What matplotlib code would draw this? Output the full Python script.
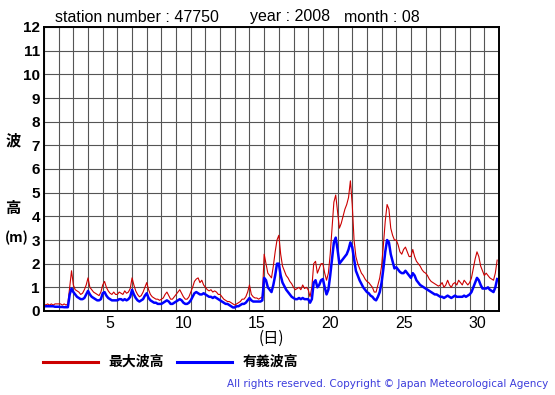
import numpy as np
import matplotlib
matplotlib.use("Agg")
import matplotlib.pyplot as plt

plt.rcParams['font.family'] = ['Liberation Sans', 'Noto Sans CJK JP', 'DejaVu Sans']

# 3-hourly values, one row per day (Aug 2008, station 47750)
sig_wave = [
    0.2, 0.2, 0.2, 0.2, 0.2, 0.2, 0.18, 0.18,
    0.18, 0.17, 0.17, 0.16, 0.16, 0.16, 0.7, 0.95,
    0.8, 0.7, 0.6, 0.55, 0.5, 0.5, 0.55, 0.7,
    0.85, 0.7, 0.6, 0.55, 0.5, 0.45, 0.45, 0.5,
    0.75, 0.8, 0.65, 0.55, 0.5, 0.45, 0.45, 0.45,
    0.45, 0.5, 0.5, 0.45, 0.5, 0.45, 0.5, 0.6,
    0.9, 0.7, 0.55, 0.45, 0.4, 0.45, 0.5, 0.65,
    0.75, 0.55, 0.45, 0.4, 0.35, 0.35, 0.3, 0.3,
    0.3, 0.35, 0.4, 0.45, 0.4, 0.3, 0.3, 0.35,
    0.4, 0.45, 0.5, 0.45, 0.35, 0.3, 0.3, 0.35,
    0.45, 0.6, 0.75, 0.8, 0.75, 0.7, 0.7, 0.75,
    0.7, 0.65, 0.6, 0.6, 0.55, 0.6, 0.55, 0.5,
    0.45, 0.4, 0.35, 0.3, 0.3, 0.25, 0.2, 0.15,
    0.15, 0.2, 0.2, 0.25, 0.3, 0.3, 0.35, 0.45,
    0.55, 0.45, 0.4, 0.4, 0.4, 0.4, 0.4, 0.45,
    1.4, 1.3, 1.0, 0.9, 0.8, 1.1, 1.5, 2.0,
    2.0, 1.5, 1.2, 1.05, 0.9, 0.8, 0.7, 0.6,
    0.55, 0.5, 0.5, 0.55, 0.5, 0.55, 0.5, 0.5,
    0.5, 0.35, 0.5, 1.2, 1.3, 1.0, 1.1, 1.3,
    1.35, 1.0, 0.7, 0.9, 1.5, 2.2, 2.9, 3.1,
    2.6, 2.0, 2.1, 2.2, 2.3, 2.4, 2.6, 2.9,
    2.7, 2.2, 1.7, 1.5, 1.3, 1.15, 1.0, 0.9,
    0.8, 0.75, 0.65, 0.6, 0.5, 0.45, 0.6, 0.8,
    1.2, 1.8, 2.5, 3.0, 2.9, 2.4, 2.1, 1.8,
    1.85, 1.75, 1.65, 1.6, 1.6, 1.7, 1.6, 1.5,
    1.4, 1.6, 1.5, 1.3, 1.2, 1.1, 1.05, 1.0,
    0.95, 0.9, 0.85, 0.8, 0.75, 0.7, 0.7, 0.65,
    0.6, 0.6, 0.55, 0.6, 0.65, 0.6, 0.55, 0.6,
    0.65, 0.6, 0.6, 0.6, 0.6, 0.65, 0.6, 0.65,
    0.7, 0.8, 1.0, 1.2, 1.4, 1.3, 1.1, 0.95,
    0.95, 0.95, 1.0, 0.9, 0.85, 0.8, 1.0, 1.35,
]
max_wave = [
    0.3, 0.25, 0.3, 0.25, 0.3, 0.25, 0.3, 0.3,
    0.3, 0.3, 0.25, 0.3, 0.25, 0.3, 1.0, 1.7,
    1.1, 0.9, 0.85, 0.8, 0.7, 0.75, 0.9, 1.1,
    1.4, 1.0, 0.9, 0.8, 0.75, 0.7, 0.65, 0.8,
    1.1, 1.25, 1.0, 0.85, 0.75, 0.7, 0.8, 0.7,
    0.7, 0.8, 0.75, 0.7, 0.85, 0.75, 0.8, 0.95,
    1.4, 1.1, 0.85, 0.7, 0.6, 0.65, 0.8, 1.0,
    1.2, 0.9, 0.7, 0.6, 0.55, 0.5, 0.5, 0.45,
    0.5, 0.55, 0.7, 0.8, 0.65, 0.5, 0.5, 0.6,
    0.7, 0.8, 0.9, 0.75, 0.6, 0.5, 0.5, 0.6,
    0.8, 1.0, 1.25, 1.35, 1.4, 1.2, 1.3, 1.1,
    1.0, 0.9, 0.85, 0.9, 0.8, 0.85, 0.8, 0.7,
    0.7, 0.6, 0.5, 0.45, 0.4, 0.4, 0.35, 0.3,
    0.25, 0.3, 0.35, 0.4, 0.5, 0.5, 0.6, 0.8,
    1.1, 0.7, 0.6, 0.55, 0.55, 0.5, 0.55, 0.6,
    2.4, 2.0, 1.6, 1.5, 1.4, 1.9, 2.5, 3.0,
    3.2, 2.4, 1.9, 1.7, 1.5, 1.4, 1.25, 1.15,
    1.0, 0.9, 0.95, 1.0, 0.9, 1.1, 0.95, 1.0,
    0.9, 0.6, 1.0, 2.0, 2.1, 1.6, 1.8, 2.0,
    2.0, 1.6, 1.3, 1.6, 2.4, 3.5, 4.6, 4.9,
    4.2, 3.5, 3.7, 4.0, 4.3, 4.5, 4.8, 5.5,
    4.5, 3.0, 2.3, 2.0, 1.8, 1.6, 1.5, 1.35,
    1.25, 1.2, 1.1, 1.0, 0.8, 0.8, 1.1, 1.4,
    1.9, 2.8, 3.8, 4.5, 4.3, 3.5, 3.2, 3.0,
    3.0, 2.8, 2.5, 2.4, 2.6, 2.7, 2.5, 2.3,
    2.3, 2.6, 2.3, 2.1, 2.0, 1.9, 1.75, 1.65,
    1.6, 1.5, 1.35, 1.25, 1.2, 1.15, 1.1, 1.05,
    1.1, 1.2, 1.0, 1.1, 1.3, 1.1, 1.0, 1.15,
    1.2, 1.1, 1.3, 1.2, 1.1, 1.3, 1.2, 1.1,
    1.2, 1.4, 1.8, 2.2, 2.5, 2.3, 1.9, 1.7,
    1.5, 1.6, 1.5, 1.4, 1.35, 1.3, 1.6, 2.15,
]
day_ticks = [5, 10, 15, 20, 25, 30]
height_ticks = list(range(0, 13))

t = 1 + np.arange(len(sig_wave)) / 8.0

fig = plt.figure(figsize=(5.55, 3.95), dpi=100)
ax = fig.add_axes([44 / 555, 84 / 395, 455 / 555, 284 / 395])

ax.plot(t, max_wave, color='#cc0000', lw=0.8)
ax.plot(t, sig_wave, color='#0000ff', lw=1.8)

ax.set_xlim(1, 32)
ax.set_ylim(0, 12)
ax.set_xticks(np.arange(1, 33))
ax.set_xticklabels([])
ax.set_yticks(height_ticks)
ax.set_yticklabels([str(v) for v in height_ticks], fontweight='bold', fontsize=11)
ax.tick_params(length=0, pad=3)
ax.grid(True, color='#555555', lw=0.8)
for s in ax.spines.values():
    s.set_linewidth(1.4)

for d in day_ticks:
    ax.text(d + 0.5, -0.2, str(d), ha='center', va='top', fontsize=11.5)
cjk = ['Noto Sans CJK JP', 'DejaVu Sans']
ax.text(16.5, -0.8, '(日)', ha='center', va='top', fontsize=11, family=cjk)

# y label, stacked
fig.text(13 / 555, 1 - 140 / 395, '波', ha='center', va='center', fontsize=11, fontweight='bold', family=cjk)
fig.text(13 / 555, 1 - 208 / 395, '高', ha='center', va='center', fontsize=11, fontweight='bold', family=cjk)
fig.text(17 / 555, 1 - 238 / 395, '(m)', ha='center', va='center', fontsize=10, fontweight='bold', family=cjk)

# header
fig.text(55 / 555, 1 - 17 / 395, 'station number : 47750', ha='left', va='center', fontsize=11.5)
fig.text(250 / 555, 1 - 17 / 395, 'year : 2008', ha='left', va='center', fontsize=11.5)
fig.text(344 / 555, 1 - 17 / 395, 'month : 08', ha='left', va='center', fontsize=11.5)

# legend
fig.add_artist(plt.Line2D([43 / 555, 98 / 555], [1 - 362 / 395] * 2, color='#cc0000', lw=2.2))
fig.text(108 / 555, 1 - 362 / 395, '最大波高', ha='left', va='center', fontsize=10, fontweight='bold', family=cjk)
fig.add_artist(plt.Line2D([177 / 555, 232 / 555], [1 - 362 / 395] * 2, color='#0000ff', lw=2.2))
fig.text(243 / 555, 1 - 362 / 395, '有義波高', ha='left', va='center', fontsize=10, fontweight='bold', family=cjk)

fig.text(548 / 555, 1 - 384 / 395, 'All rights reserved. Copyright © Japan Meteorological Agency',
         ha='right', va='center', fontsize=7.5, color='#3c3cdc', family='DejaVu Sans')

fig.savefig('out.png', dpi=100)
